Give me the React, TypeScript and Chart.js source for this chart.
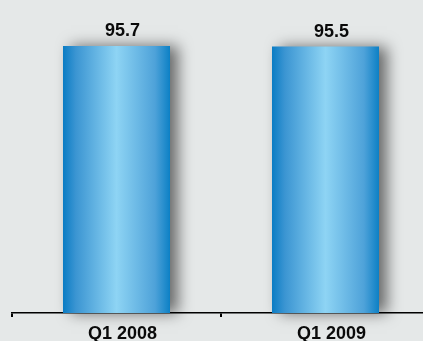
import React, { useEffect, useRef } from "react";
import { Chart, registerables } from "chart.js";

Chart.register(...registerables);

const categories = ["Q1 2008", "Q1 2009"];
const values = [95.7, 95.5];
const valueLabels = ["95.7", "95.5"];
const yMax = 100;

const BG = "#e5e8e8";
const FONT = "'Liberation Sans', Arial, sans-serif";
const BAR_FRACTION = 0.512;

const shadowPlugin = {
  id: "barShadow",
  beforeDatasetDraw(chart: any) {
    const ctx = chart.ctx;
    ctx.save();
    ctx.shadowColor = "rgba(0,0,0,0.55)";
    ctx.shadowBlur = 14;
    ctx.shadowOffsetX = 8;
    ctx.shadowOffsetY = 0;
  },
  afterDatasetDraw(chart: any) {
    chart.ctx.restore();
  },
};

const labelPlugin = {
  id: "valueLabels",
  afterDatasetsDraw(chart: any) {
    const ctx = chart.ctx;
    const meta = chart.getDatasetMeta(0);
    ctx.save();
    ctx.font = `bold 18px ${FONT}`;
    ctx.fillStyle = "#0a0a0a";
    ctx.textAlign = "center";
    ctx.textBaseline = "alphabetic";
    meta.data.forEach((el: any, i: number) => {
      ctx.fillText(valueLabels[i], el.x + 6, el.y - 10);
    });
    ctx.restore();
  },
};

export default function App() {
  const ref = useRef<HTMLCanvasElement | null>(null);

  useEffect(() => {
    if (!ref.current) return;
    const chart = new Chart(ref.current, {
      type: "bar",
      data: {
        labels: categories,
        datasets: [
          {
            data: values,
            clip: false as any,
            barPercentage: BAR_FRACTION,
            categoryPercentage: 1,
            borderWidth: 0,
            backgroundColor: (c: any) => {
              const chart = c.chart;
              const xs = chart.scales && chart.scales.x;
              if (!xs || !chart.chartArea) return "#1a88c8";
              const cx = xs.getPixelForValue(c.dataIndex);
              const w = (xs.width / categories.length) * BAR_FRACTION;
              const g = chart.ctx.createLinearGradient(cx - w / 2, 0, cx + w / 2, 0);
              g.addColorStop(0, "#0a7cc4");
              g.addColorStop(0.12, "#3b95d2");
              g.addColorStop(0.5, "#8ed4f4");
              g.addColorStop(0.86, "#4ea2d9");
              g.addColorStop(1, "#0c80c5");
              return g;
            },
          },
        ],
      },
      options: {
        animation: false,
        responsive: false,
        maintainAspectRatio: false,
        devicePixelRatio: 1,
        layout: { padding: { left: 12, top: 34, right: 0, bottom: 9.4 } },
        plugins: { legend: { display: false }, tooltip: { enabled: false } },
        scales: {
          y: { display: false, min: 0, max: yMax },
          x: {
            offset: true,
            grid: {
              display: true,
              offset: true,
              drawOnChartArea: false,
              drawTicks: true,
              tickLength: 4,
              color: "#000000",
              lineWidth: 2,
            },
            border: { display: true, color: "#000000", width: 1.5 },
            ticks: {
              padding: 6,
              labelOffset: 6,
              color: "#0a0a0a",
              font: { family: FONT, size: 18, weight: "bold" },
            },
          },
        },
      },
      plugins: [shadowPlugin, labelPlugin],
    });
    return () => chart.destroy();
  }, []);

  return (
    <div
      style={{
        position: "absolute",
        left: 0,
        top: 0,
        width: 423,
        height: 341,
        overflow: "hidden",
        background: BG,
      }}
    >
      <canvas ref={ref} width={430} height={360} style={{ display: "block" }} />
    </div>
  );
}
